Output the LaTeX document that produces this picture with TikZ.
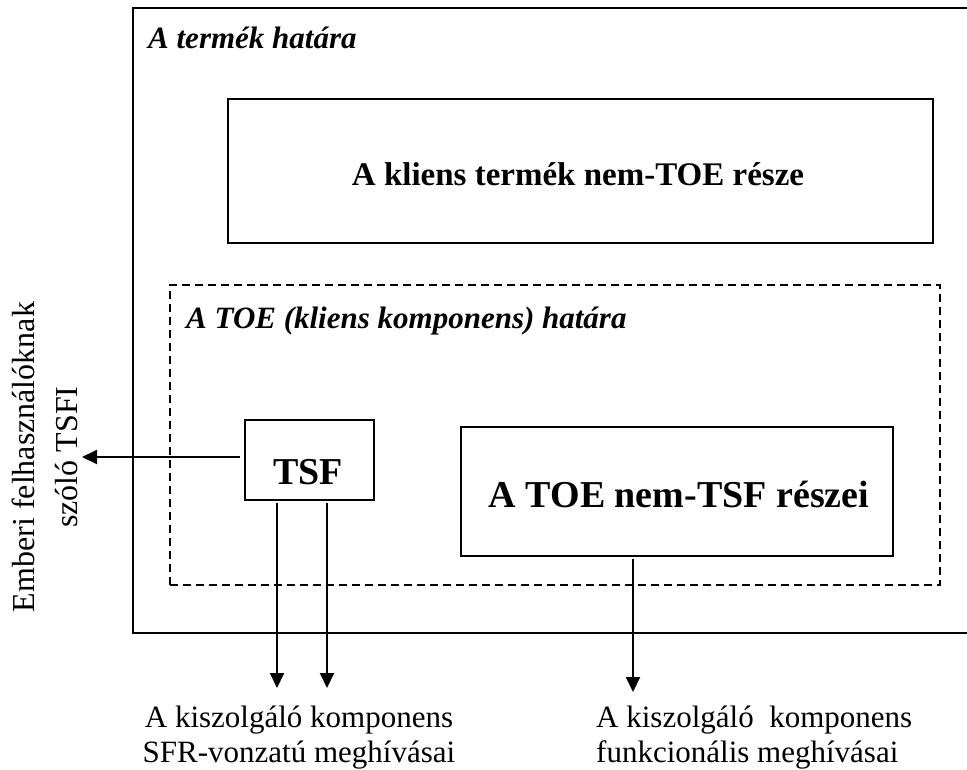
\documentclass[tikz,border=0pt]{standalone}
\usepackage{fontspec}
\setmainfont{Liberation Serif}
\usetikzlibrary{arrows.meta}
\begin{document}
\begin{tikzpicture}[x=1pt,y=-1pt,
  frame/.style={draw, line width=2.4pt},
  box/.style={draw, line width=2.2pt, inner sep=0pt, fill=white},
  dashbox/.style={draw, line width=2pt, dash pattern=on 8pt off 5pt, inner sep=0pt},
  arr/.style={line width=2pt, -{Triangle[length=15pt,width=14pt]}},
  boundlbl/.style={font=\fontsize{31}{36}\selectfont\bfseries\itshape, inner sep=0pt},
  boxlbl/.style={font=\fontsize{33}{38}\selectfont\bfseries, inner sep=0pt},
  biglbl/.style={font=\fontsize{38}{44}\selectfont\bfseries, inner sep=0pt},
  plainlbl/.style={font=\fontsize{31}{35}\selectfont, inner sep=0pt}]
\useasboundingbox (0,0) rectangle (967,769);
\clip (0,0) rectangle (967,769);

% product boundary (open to the right)
\draw[frame] (990,8) -- (133,8) -- (133,633) -- (990,633);
\node[boundlbl, anchor=base west] (prodlbl) at (148,48) {A termék határa};

% non-TOE part of the client product
\node[box, minimum width=705pt, minimum height=144pt] (client) at (580.5,171) {};
\node[boxlbl, anchor=base] (clienttxt) at (578,185) {A kliens termék nem-TOE része};

% TOE boundary
\node[dashbox, minimum width=770pt, minimum height=300pt] (toe) at (555,435) {};
\node[boundlbl, anchor=base west] (toelbl) at (186,328) {A TOE (kliens komponens) határa};

% TSF
\node[box, minimum width=129pt, minimum height=80pt] (tsf) at (309.5,460) {};
\node[biglbl, anchor=base] (tsftxt) at (308,484) {TSF};

% non-TSF parts of the TOE
\node[box, minimum width=432pt, minimum height=129pt] (nontsf) at (677,491.5) {};
\node[biglbl, anchor=base] (nontsftxt) at (679,507) {A TOE nem-TSF részei};

% interfaces
\coordinate (tsfiend) at (82,457);
\coordinate (sfrA) at (277,688);
\coordinate (sfrB) at (327,688);
\coordinate (funcend) at (633,692);
\draw[arr] ([xshift=-4pt]tsf.west |- tsfiend) -- (tsfiend);
\draw[arr] ([yshift=-2pt]tsf.south -| sfrA) -- (sfrA);
\draw[arr] ([yshift=-2pt]tsf.south -| sfrB) -- (sfrB);
\draw[arr] ([yshift=-2pt]nontsf.south -| funcend) -- (funcend);

% interface labels
\node[plainlbl, rotate=90, align=center, font=\fontsize{32}{43}\selectfont] (tsfilbl) at (45,457)
  {Emberi felhasználóknak\\szóló TSFI};
\node[plainlbl, align=center, anchor=north] (sfrlbl) at (299,706)
  {A kiszolgáló komponens\\SFR-vonzatú meghívásai};
\node[plainlbl, align=left, anchor=north west] (funclbl) at (596,706)
  {A kiszolgáló\ \ komponens\\funkcionális meghívásai};
\end{tikzpicture}
\end{document}
